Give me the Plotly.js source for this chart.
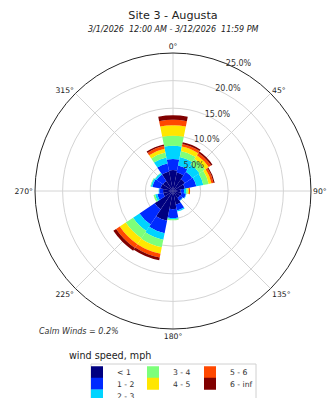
<!DOCTYPE html>
<html>
<head>
<meta charset="utf-8">
<script src="https://cdn.plot.ly/plotly-3.0.1.min.js"></script>
<style>html,body{margin:0;padding:0;background:#fff;}#chart{width:327px;height:398px;}</style>
</head>
<body>
<div id="chart"></div>
<script>
// Direction sectors (degrees, clockwise from north)
const directions = [0, 22.5, 45, 67.5, 90, 112.5, 135, 157.5, 180, 202.5, 225, 247.5, 270, 292.5, 315, 337.5];
// Wind speed bins (mph)
const binLabels = ['< 1', '1 - 2', '2 - 3', '3 - 4', '4 - 5', '5 - 6', '6 - inf'];
// Frequency (%) per bin, per direction
const bin0 = [3.8, 3.4, 2.6, 2.2, 1.4, 1.6, 1.5, 2.5, 3.3, 5.5, 4.0, 1.8, 1.8, 2.3, 2.2, 3.6];
const bin1 = [2.0, 1.3, 1.6, 2.1, 0.6, 0.8, 0.6, 1.1, 1.6, 2.3, 3.3, 1.1, 0.7, 1.5, 1.4, 1.5];
const bin2 = [2.4, 1.6, 1.6, 1.3, 0.4, 0.1, 0.1, 0.2, 0.2, 1.2, 1.4, 0.4, 0.1, 0.3, 0.3, 1.1];
const bin3 = [1.8, 1.1, 1.2, 1.0, 0.3, 0.0, 0.0, 0.0, 0.2, 1.4, 1.6, 0.3, 0.0, 0.1, 0.1, 0.9];
const bin4 = [1.9, 0.8, 0.8, 0.5, 0.2, 0.0, 0.0, 0.0, 0.0, 1.2, 1.3, 0.0, 0.0, 0.0, 0.0, 0.7];
const bin5 = [1.0, 0.5, 0.5, 0.4, 0.2, 0.0, 0.0, 0.0, 0.0, 0.7, 0.8, 0.0, 0.0, 0.0, 0.0, 0.5];
const bin6 = [0.8, 0.3, 0.3, 0.2, 0.0, 0.0, 0.0, 0.0, 0.0, 0.5, 0.6, 0.0, 0.0, 0.0, 0.0, 0.3];
const binValues = [bin0, bin1, bin2, bin3, bin4, bin5, bin6];
// Radial tick values / labels
const radialTicks = [5, 10, 15, 20, 25];
const radialTickLabels = ['5.0%', '10.0%', '15.0%', '20.0%', '25.0%'];
// Angular tick values / labels
const angleTicks = [0, 45, 90, 135, 180, 225, 270, 315];
const angleTickLabels = ['0°', '45°', '90°', '135°', '180°', '225°', '270°', '315°'];
const calmText = 'Calm Winds = 0.2%';

const colors = ['#000080', '#002aff', '#00d4ff', '#7dff7a', '#ffe600', '#ff4800', '#800000'];

const W = 327, H = 398;
const ML = 35, MR = 16, MT = 53, MB = 69;
const PW = W - ML - MR, PH = H - MT - MB;
const font = 'DejaVu Sans, sans-serif';
const px2x = px => (px - ML) / PW;
const py2y = py => (H - MB - py) / PH;

// legend cell positions (column-major, 3 columns like the reference)
const legCols = [117, 173, 230];
const legRows = [371.7, 383.3, 395];
const legCell = [[0, 0], [0, 1], [0, 2], [1, 0], [1, 1], [2, 0], [2, 1]];

const traces = binValues.map((vals, i) => ({
  type: 'barpolar',
  r: vals,
  theta: directions,
  width: 22.5,
  name: binLabels[i],
  legend: i === 0 ? 'legend' : 'legend' + (i + 1),
  marker: {color: colors[i], line: {width: 0}},
  hoverinfo: 'skip'
}));
traces.push({
  type: 'scatterpolar',
  mode: 'text',
  r: radialTicks,
  theta: radialTicks.map(() => 22.5),
  text: radialTickLabels,
  textposition: 'middle right',
  textfont: {family: font, size: 8, color: '#333'},
  cliponaxis: false,
  showlegend: false,
  hoverinfo: 'skip'
});

const layout = {
  width: W, height: H,
  margin: {l: ML, r: MR, t: MT, b: MB, pad: 0, autoexpand: false},
  paper_bgcolor: '#fff',
  font: {family: font, color: '#222'},
  showlegend: true,
  title: {
    text: 'Site 3 - Augusta',
    font: {family: font, size: 11.2, color: '#222'},
    x: 0.5, xref: 'paper', xanchor: 'center',
    y: 1 - 15 / H, yref: 'container', yanchor: 'middle'
  },
  annotations: [
    {text: '<i>3/1/2026\u00a0\u00a012:00 AM - 3/12/2026\u00a0\u00a011:59 PM</i>', xref: 'paper', yref: 'paper',
     x: 0.5, y: py2y(29), xanchor: 'center', yanchor: 'middle', showarrow: false,
     font: {family: font, size: 8, color: '#222'}},
    {text: '<i>' + calmText + '</i>', xref: 'paper', yref: 'paper',
     x: px2x(37), y: py2y(331), xanchor: 'left', yanchor: 'middle', showarrow: false,
     font: {family: font, size: 8, color: '#333'}},
    {text: 'wind speed, mph', xref: 'paper', yref: 'paper',
     x: px2x(67), y: py2y(355), xanchor: 'left', yanchor: 'middle', showarrow: false,
     font: {family: font, size: 9.6, color: '#222'}}
  ],
  shapes: [
    {type: 'rect', xref: 'paper', yref: 'paper', x0: px2x(91), x1: px2x(256), y0: py2y(364), y1: py2y(402),
     line: {color: '#d0d0d0', width: 1}, fillcolor: '#fff', layer: 'below'}
  ],
  polar: {
    domain: {x: [0, 1], y: [0, 1]},
    bgcolor: '#fff',
    barmode: 'stack',
    bargap: 0,
    angularaxis: {
      rotation: 90, direction: 'clockwise',
      tickvals: angleTicks, ticktext: angleTickLabels,
      ticks: '', showline: true, linecolor: '#222', linewidth: 1,
      showgrid: true, gridcolor: '#d4d4d4', gridwidth: 1,
      tickfont: {family: font, size: 7.7, color: '#222'}
    },
    radialaxis: {
      range: [0, 25], tickvals: radialTicks, showticklabels: false,
      ticks: '', showline: false, showgrid: true, gridcolor: '#d4d4d4', gridwidth: 1,
      angle: 67.5
    }
  }
};

legCell.forEach((cell, i) => {
  const key = i === 0 ? 'legend' : 'legend' + (i + 1);
  layout[key] = {
    orientation: 'v',
    xref: 'container', yref: 'container',
    x: (legCols[cell[0]] - 40) / W,
    y: 1 - (legRows[cell[1]] - 14) / H,
    xanchor: 'left', yanchor: 'top',
    bgcolor: 'rgba(0,0,0,0)', borderwidth: 0,
    itemwidth: 30,
    font: {family: font, size: 7.7, color: '#333'}
  };
});

Plotly.newPlot('chart', traces, layout, {displayModeBar: false, staticPlot: true});
</script>
</body>
</html>
